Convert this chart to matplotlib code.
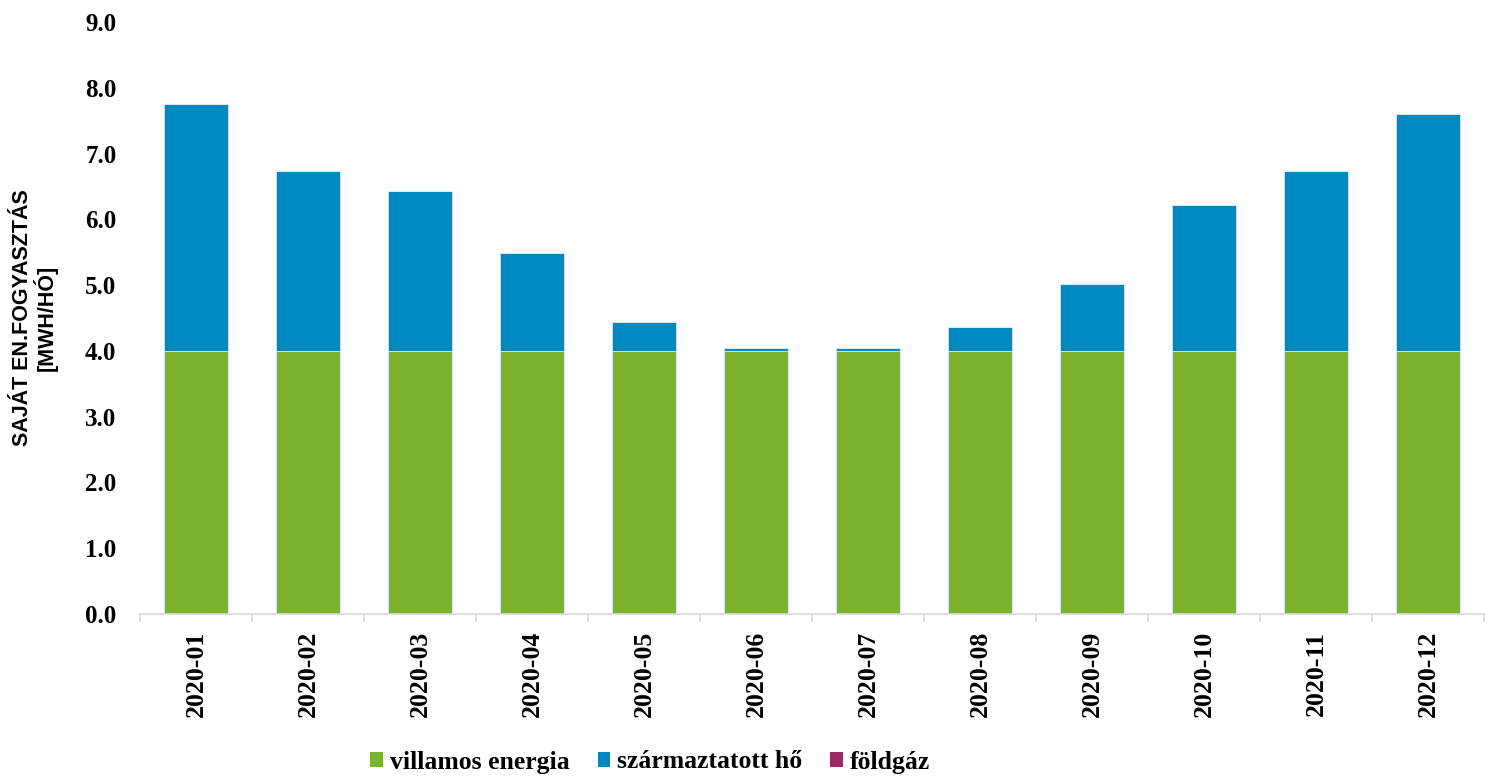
import matplotlib
matplotlib.use("Agg")
import matplotlib.pyplot as plt
from matplotlib.ticker import FixedLocator
from matplotlib.patches import Patch
import numpy as np

months = ["2020-01", "2020-02", "2020-03", "2020-04", "2020-05", "2020-06",
          "2020-07", "2020-08", "2020-09", "2020-10", "2020-11", "2020-12"]
villamos = [4.0, 4.0, 4.0, 4.0, 4.0, 4.0, 4.0, 4.0, 4.0, 4.0, 4.0, 4.0]
szarmaztatott = [3.75, 2.74, 2.43, 1.49, 0.44, 0.05, 0.04, 0.36, 1.02, 2.22, 2.73, 3.60]
foldgaz = [0, 0, 0, 0, 0, 0, 0, 0, 0, 0, 0, 0]
series_names = ["villamos energia", "származtatott hő", "földgáz"]
yticks = [0, 1, 2, 3, 4, 5, 6, 7, 8, 9]
colors = ["#7AB42F", "#0089C0", "#9B2C62"]

serif = ["Liberation Serif", "DejaVu Serif"]
sans = ["Liberation Sans", "DejaVu Sans"]

fig = plt.figure(figsize=(14.89, 7.77), dpi=100)
ax = fig.add_axes([140/1489, 1 - 614/777, (1484-140)/1489, (614-22)/777])

x = np.arange(len(months))
w = 0.57
bottom = np.zeros(len(months))
for vals, c in zip([villamos, szarmaztatott, foldgaz], colors):
    ax.bar(x, vals, w, bottom=bottom, color=c, edgecolor="#d8ecf5", linewidth=0.6)
    bottom = bottom + np.array(vals)

ax.set_xlim(-0.5, len(months) - 0.5)
ax.set_ylim(0, 9)
ax.yaxis.set_major_locator(FixedLocator(yticks))
ax.set_yticklabels([f"{v:.1f}" for v in yticks], fontfamily=serif,
                   fontweight="bold", fontsize=18)
ax.tick_params(axis="y", length=0, pad=17)

ax.set_xticks(x)
ax.set_xticklabels(months, rotation=90, fontfamily=serif, fontweight="bold", fontsize=18.5)
ax.tick_params(axis="x", which="major", length=0, pad=12)
ax.set_xticks(np.arange(-0.5, len(months)), minor=True)
ax.tick_params(axis="x", which="minor", length=6, color="#d9d9d9", width=1.2)

for s in ["top", "right", "left"]:
    ax.spines[s].set_visible(False)
ax.spines["bottom"].set_color("#d9d9d9")
ax.spines["bottom"].set_linewidth(1.2)

fig.text(35/1489, 1 - 318/777, "SAJÁT EN.FOGYASZTÁS\n[MWH/HÓ]", rotation=90,
         ha="center", va="center", fontfamily=sans, fontweight="bold", fontsize=15.5,
         linespacing=1.0)

handles = [Patch(facecolor=c, edgecolor="none") for c in colors]
fig.legend(handles, series_names, loc="center", bbox_to_anchor=(650/1489, 1 - 762/777),
           ncol=3, frameon=False, prop={"family": serif, "weight": "bold", "size": 18.5},
           handlelength=0.5, handleheight=0.55, handletextpad=0.25, columnspacing=1.1,
           borderpad=0, borderaxespad=0)

fig.savefig("out.png", dpi=100)
